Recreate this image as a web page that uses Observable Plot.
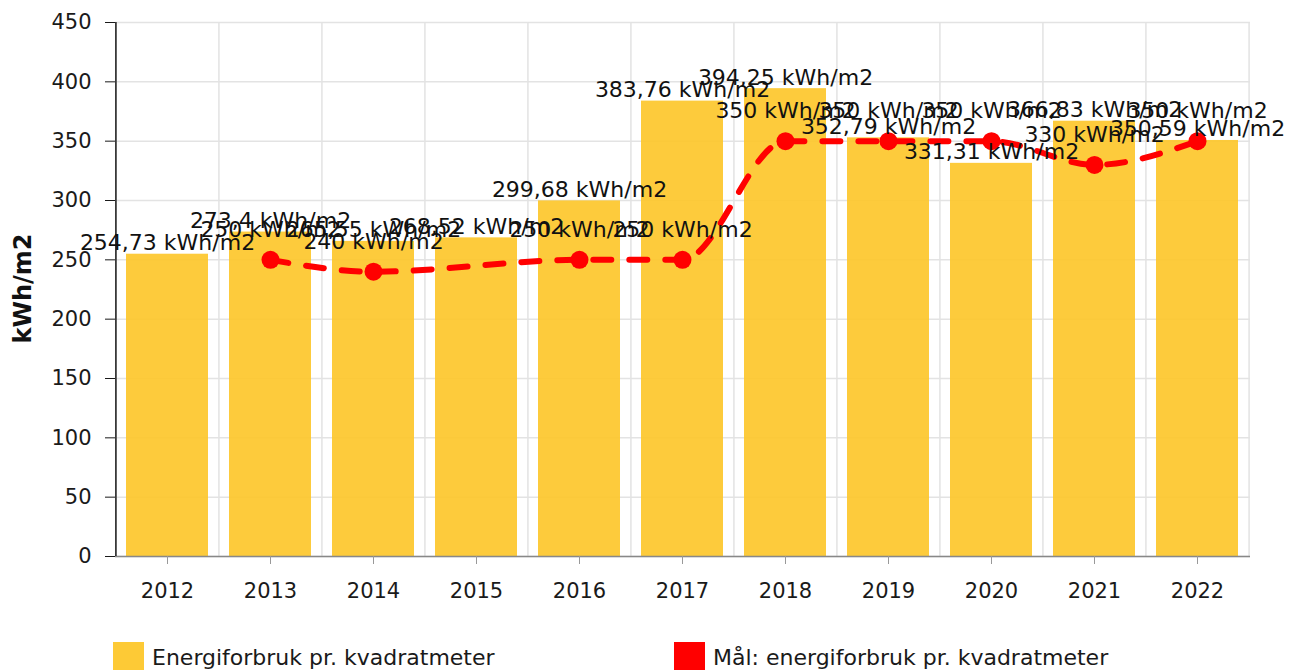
<!DOCTYPE html>
<html>
<head>
<meta charset="utf-8">
<script src="https://cdn.jsdelivr.net/npm/d3@7"></script>
<script src="https://cdn.jsdelivr.net/npm/@observablehq/plot@0.6"></script>
<style>
  body { margin: 0; background: #fff; font-family: "DejaVu Sans", sans-serif; }
  #chart { width: 1305px; height: 640px; }
  .legend { position: relative; height: 30px; font-size: 22px; color: #1a1a1a; }
  .item { position: absolute; top: 2px; display: flex; align-items: flex-start; }
  .sw { width: 31px; height: 31px; margin-right: 8px; }
  .lbl { line-height: 30px; margin-top: 1px; }
</style>
</head>
<body>
<div id="chart"></div>
<div class="legend">
  <div class="item" style="left:113px"><div class="sw" style="background:#fdc72b;opacity:0.95"></div><div class="lbl">Energiforbruk pr. kvadratmeter</div></div>
  <div class="item" style="left:674px"><div class="sw" style="background:#ff0000"></div><div class="lbl">Mål: energiforbruk pr. kvadratmeter</div></div>
</div>
<script>
const years = ["2012","2013","2014","2015","2016","2017","2018","2019","2020","2021","2022"];
const consumption = [254.73, 273.4, 265.55, 268.52, 299.68, 383.76, 394.25, 352.79, 331.31, 366.83, 350.59];
const targetYears = ["2013","2014","2016","2017","2018","2019","2020","2021","2022"];
const targetValues = [250, 240, 250, 250, 350, 350, 350, 330, 350];
const yTicks = [0, 50, 100, 150, 200, 250, 300, 350, 400, 450];
const unit = " kWh/m2";
const yLabel = "kWh/m2";

const bars = years.map((y, i) => ({year: y, value: consumption[i]}));
const target = targetYears.map((y, i) => ({year: y, value: targetValues[i]}));
const fmt = v => String(v).replace(".", ",") + unit;

const W = 1305, mL = 115, mR = 55;
const step = (W - mL - mR) / (years.length - 0.2 + 0.2);

const chart = Plot.plot({
  width: W,
  height: 640,
  marginTop: 22,
  marginBottom: 84,
  marginLeft: mL,
  marginRight: mR,
  style: {fontFamily: "DejaVu Sans, sans-serif", fontSize: "21px", color: "#1a1a1a", background: "#fff"},
  x: {type: "band", domain: years, paddingInner: 0.2, paddingOuter: 0.1, label: null},
  y: {domain: [0, 450], label: null},
  marks: [
    Plot.ruleY(yTicks, {y: d => d, stroke: "#e3e3e3", strokeWidth: 1.5}),
    Plot.ruleX(years, {x: d => d, dx: -step / 2, y1: 0, y2: 450, stroke: "#e3e3e3", strokeWidth: 1.5}),
    Plot.ruleX(years.slice(-1), {x: d => d, dx: step / 2, y1: 0, y2: 450, stroke: "#e3e3e3", strokeWidth: 1.5}),
    Plot.barY(bars, {x: "year", y: "value", fill: "#fdc72b", fillOpacity: 0.92}),
    Plot.ruleY([0], {stroke: "#888", strokeWidth: 1.5}),
    Plot.axisX({ticks: years, tickSize: 8, tickPadding: 19, stroke: "#999", fill: "#1a1a1a", label: null}),
    Plot.axisY({ticks: yTicks, tickSize: 10, tickPadding: 14, stroke: "#1a1a1a", fill: "#1a1a1a", label: null}),
    Plot.ruleX(years.slice(0, 1), {x: d => d, dx: -step / 2, y1: 0, y2: 450, stroke: "#1a1a1a", strokeWidth: 1.5}),
    Plot.line(target, {x: "year", y: "value", stroke: "#ff0000", strokeWidth: 6, strokeDasharray: "18,18", curve: "monotone-x"}),
    Plot.dot(target, {x: "year", y: "value", r: 9, fill: "#ff0000"}),
    Plot.text(bars, {x: "year", y: "value", text: d => fmt(d.value), lineAnchor: "bottom", dy: -4, fill: "#111", fontSize: 22}),
    Plot.text(target, {x: "year", y: "value", text: d => fmt(d.value), lineAnchor: "bottom", dy: -23, fill: "#111", fontSize: 22}),
    Plot.text([yLabel], {frameAnchor: "left", textAnchor: "middle", dx: -92, dy: -1, rotate: -90, fontWeight: "bold", fontSize: 24, fill: "#111", style: "letter-spacing:0.5px"})
  ]
});
document.getElementById("chart").appendChild(chart);
</script>
</body>
</html>
